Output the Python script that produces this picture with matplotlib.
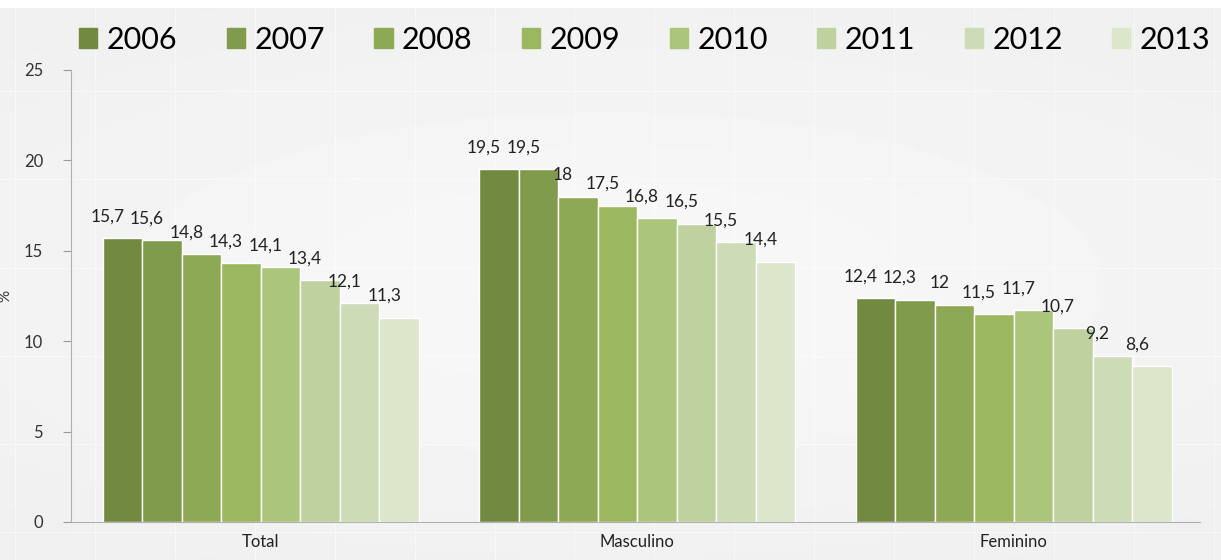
import numpy as np
import matplotlib.pyplot as plt
from matplotlib.patches import Patch

plt.rcParams['font.family'] = ['Lato', 'DejaVu Sans']

# dados
grupos = ['Total', 'Masculino', 'Feminino']
anos = ['2006', '2007', '2008', '2009', '2010', '2011', '2012', '2013']
total = [15.7, 15.6, 14.8, 14.3, 14.1, 13.4, 12.1, 11.3]
masculino = [19.5, 19.5, 18, 17.5, 16.8, 16.5, 15.5, 14.4]
feminino = [12.4, 12.3, 12, 11.5, 11.7, 10.7, 9.2, 8.6]
cores = ['#718a40', '#809b4b', '#8ea955', '#9bb75f', '#abc57a',
         '#bfd19f', '#cddcb7', '#dbe6cb']

valores = np.array([total, masculino, feminino])

fig = plt.figure(figsize=(12.21, 5.6), dpi=100)
fig.patch.set_facecolor('white')

# fundo cinza claro com grade suave
bg = fig.add_axes([0, 0, 1, 0.985], zorder=0)
gx = np.linspace(-1, 1, 300)
gy = np.linspace(-1, 1, 150)
X, Y = np.meshgrid(gx, gy)
grad = 0.93 + 0.04 * np.exp(-(X**2 * 0.6 + Y**2 * 1.0))
bg.imshow(grad, cmap='gray', vmin=0, vmax=1, aspect='auto',
          extent=[0, 1, 0, 1])
for xv in np.arange(0.012, 1, 0.0655):
    bg.axvline(xv, color='white', lw=0.8, alpha=0.5)
for yv in np.arange(0.05, 1, 0.16):
    bg.axhline(yv, color='white', lw=0.8, alpha=0.5)
bg.set_xlim(0, 1)
bg.set_ylim(0, 1)
bg.axis('off')

ax = fig.add_axes([0.058, 0.068, 0.925, 0.807], zorder=1)
ax.patch.set_alpha(0)

n = len(anos)
w = 0.105
x = np.arange(len(grupos))
for i in range(n):
    pos = x + (i - (n - 1) / 2) * w
    ax.bar(pos, valores[:, i], width=w, color=cores[i],
           edgecolor='white', linewidth=1, label=anos[i])
    for xp, v in zip(pos, valores[:, i]):
        txt = ('%g' % v).replace('.', ',')
        ax.text(xp - 0.04, v + 0.75, txt, ha='center', va='bottom',
                fontsize=12.5, color='#222222')

ax.set_xlim(-0.505, 2.496)
ax.set_ylim(0, 25)
ax.set_yticks([0, 5, 10, 15, 20, 25])
ax.set_xticks(x)
ax.set_xticklabels(grupos, fontsize=12, color='#222222')
ax.tick_params(axis='x', length=0, pad=9)
ax.tick_params(axis='y', labelsize=12, labelcolor='#333333',
               color='#999999', length=6, pad=14)
for s in ['top', 'right']:
    ax.spines[s].set_visible(False)
ax.spines['left'].set_color('#b0b0b0')
ax.spines['bottom'].set_color('#b0b0b0')
ax.set_ylabel('%', fontsize=11, color='#333333', labelpad=8)

handles = [Patch(color=c, label=a) for c, a in zip(cores, anos)]
fig.legend(handles=handles, loc='upper center', ncol=8,
           bbox_to_anchor=(0.528, 1.003), frameon=False, fontsize=22,
           handlelength=0.6, handleheight=0.6, handletextpad=0.3,
           columnspacing=1.62)

fig.savefig('out.png', dpi=100)
